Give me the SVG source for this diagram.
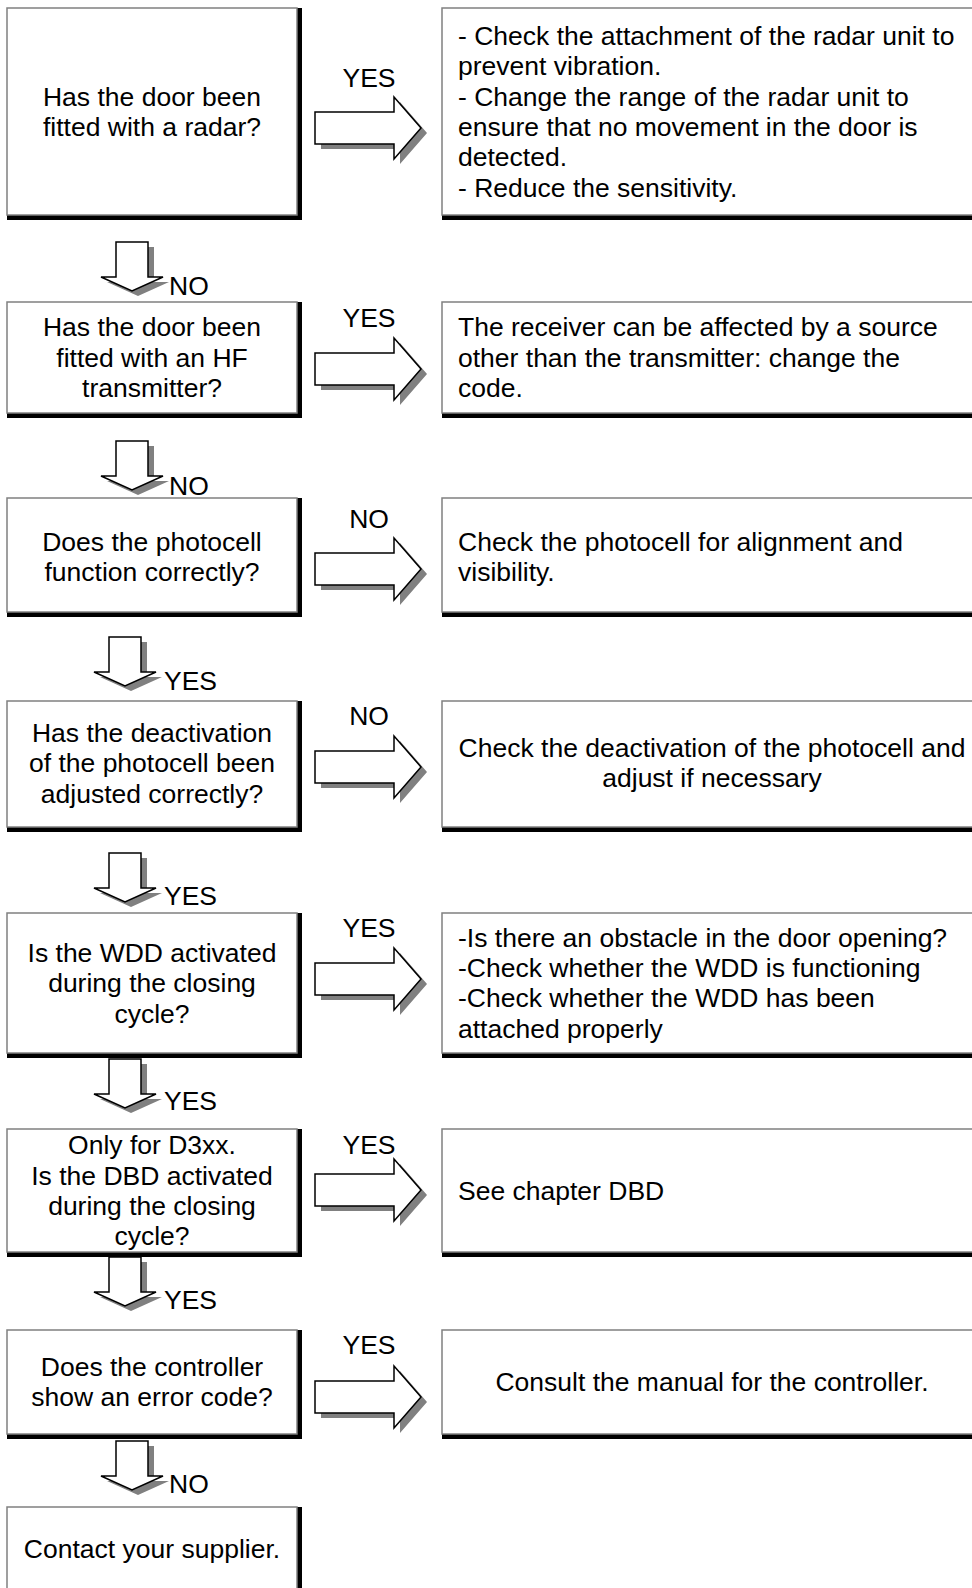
<svg xmlns="http://www.w3.org/2000/svg" xmlns:xlink="http://www.w3.org/1999/xlink" width="972" height="1588" viewBox="0 0 972 1588">
  <style>
    text { font-family: "Liberation Sans", Arial, sans-serif; font-size: 26.5px; fill: #000; }
    .c { text-anchor: middle; }
    .edge { fill: #000; }
    .frame { fill: #fff; stroke: #808080; stroke-width: 1.5; }
    .arr { fill: #fff; stroke: #000; stroke-width: 1.5; stroke-linejoin: miter; }
    .shd { fill: #808080; }
  </style>
  <defs>
    <!-- block arrow pointing right, tip at origin -->
    <path id="ra" d="M-106,-16 H-27 V-31 L0,0 L-27,31 V16 H-106 Z"/>
    <!-- block arrow pointing down, tip at origin -->
    <path id="da" d="M-16,-49 H16 V-14 H31 L0,0 L-31,-14 H-16 Z"/>
  </defs>

  <rect width="972" height="1588" fill="#fff"/>

  <!-- connectors -->
  <g id="connectors">
    <!-- horizontal arrows to the remedy boxes -->
    <use href="#ra" class="shd" x="427" y="133"/>
    <use href="#ra" class="arr" x="421" y="128"/>
    <text class="c" x="369" y="87">YES</text>

    <use href="#ra" class="shd" x="427" y="374"/>
    <use href="#ra" class="arr" x="421" y="369"/>
    <text class="c" x="369" y="327">YES</text>

    <use href="#ra" class="shd" x="427" y="574"/>
    <use href="#ra" class="arr" x="421" y="569"/>
    <text class="c" x="369" y="528">NO</text>

    <use href="#ra" class="shd" x="427" y="772"/>
    <use href="#ra" class="arr" x="421" y="767"/>
    <text class="c" x="369" y="725">NO</text>

    <use href="#ra" class="shd" x="427" y="984"/>
    <use href="#ra" class="arr" x="421" y="979"/>
    <text class="c" x="369" y="937">YES</text>

    <use href="#ra" class="shd" x="427" y="1195"/>
    <use href="#ra" class="arr" x="421" y="1190"/>
    <text class="c" x="369" y="1154">YES</text>

    <use href="#ra" class="shd" x="427" y="1402"/>
    <use href="#ra" class="arr" x="421" y="1397"/>
    <text class="c" x="369" y="1354">YES</text>

    <!-- vertical arrows between the questions -->
    <use href="#da" class="shd" x="138" y="296"/>
    <use href="#da" class="arr" x="132" y="291"/>
    <text x="169" y="295">NO</text>

    <use href="#da" class="shd" x="138" y="495"/>
    <use href="#da" class="arr" x="132" y="490"/>
    <text x="169" y="495">NO</text>

    <use href="#da" class="shd" x="131" y="691"/>
    <use href="#da" class="arr" x="125" y="686"/>
    <text x="164" y="690">YES</text>

    <use href="#da" class="shd" x="131" y="907"/>
    <use href="#da" class="arr" x="125" y="902"/>
    <text x="164" y="905">YES</text>

    <use href="#da" class="shd" x="131" y="1113"/>
    <use href="#da" class="arr" x="125" y="1108"/>
    <text x="164" y="1110">YES</text>

    <use href="#da" class="shd" x="131" y="1311"/>
    <use href="#da" class="arr" x="125" y="1306"/>
    <text x="164" y="1309">YES</text>

    <use href="#da" class="shd" x="138" y="1495"/>
    <use href="#da" class="arr" x="132" y="1490"/>
    <text x="169" y="1493">NO</text>
  </g>

  <!-- question boxes -->
  <g id="q1">
    <rect class="edge" x="7" y="8" width="295" height="212"/>
    <rect class="frame" x="7" y="8" width="290" height="207"/>
    <text class="c"><tspan x="152" y="105.5">Has the door been</tspan><tspan x="152" y="135.9">fitted with a radar?</tspan></text>
  </g>
  <g id="q2">
    <rect class="edge" x="7" y="302" width="295" height="116"/>
    <rect class="frame" x="7" y="302" width="290" height="111"/>
    <text class="c"><tspan x="152" y="336.3">Has the door been</tspan><tspan x="152" y="366.7">fitted with an HF</tspan><tspan x="152" y="397.1">transmitter?</tspan></text>
  </g>
  <g id="q3">
    <rect class="edge" x="7" y="498" width="295" height="119"/>
    <rect class="frame" x="7" y="498" width="290" height="114"/>
    <text class="c"><tspan x="152" y="550.5">Does the photocell</tspan><tspan x="152" y="580.9">function correctly?</tspan></text>
  </g>
  <g id="q4">
    <rect class="edge" x="7" y="701" width="295" height="131"/>
    <rect class="frame" x="7" y="701" width="290" height="126"/>
    <text class="c"><tspan x="152" y="741.8">Has the deactivation</tspan><tspan x="152" y="772.2">of the photocell been</tspan><tspan x="152" y="802.6">adjusted correctly?</tspan></text>
  </g>
  <g id="q5">
    <rect class="edge" x="7" y="913" width="295" height="145"/>
    <rect class="frame" x="7" y="913" width="290" height="140"/>
    <text class="c"><tspan x="152" y="961.8">Is the WDD activated</tspan><tspan x="152" y="992.2">during the closing</tspan><tspan x="152" y="1022.6">cycle?</tspan></text>
  </g>
  <g id="q6">
    <rect class="edge" x="7" y="1129" width="295" height="128"/>
    <rect class="frame" x="7" y="1129" width="290" height="123"/>
    <text class="c"><tspan x="152" y="1154.1">Only for D3xx.</tspan><tspan x="152" y="1184.5">Is the DBD activated</tspan><tspan x="152" y="1214.9">during the closing</tspan><tspan x="152" y="1245.3">cycle?</tspan></text>
  </g>
  <g id="q7">
    <rect class="edge" x="7" y="1330" width="295" height="109"/>
    <rect class="frame" x="7" y="1330" width="290" height="104"/>
    <text class="c"><tspan x="152" y="1376">Does the controller</tspan><tspan x="152" y="1406.4">show an error code?</tspan></text>
  </g>
  <g id="q8">
    <rect class="edge" x="7" y="1507" width="295" height="100"/>
    <rect class="frame" x="7" y="1507" width="290" height="95"/>
    <text class="c" x="152" y="1558">Contact your supplier.</text>
  </g>

  <!-- remedy boxes -->
  <g id="a1">
    <rect class="edge" x="442" y="8" width="560" height="212"/>
    <rect class="frame" x="442" y="8" width="555" height="207"/>
    <text><tspan x="458" y="44.7">- Check the attachment of the radar unit to</tspan><tspan x="458" y="75.1">prevent vibration.</tspan><tspan x="458" y="105.5">- Change the range of the radar unit to</tspan><tspan x="458" y="135.9">ensure that no movement in the door is</tspan><tspan x="458" y="166.3">detected.</tspan><tspan x="458" y="196.7">- Reduce the sensitivity.</tspan></text>
  </g>
  <g id="a2">
    <rect class="edge" x="442" y="302" width="560" height="116"/>
    <rect class="frame" x="442" y="302" width="555" height="111"/>
    <text><tspan x="458" y="336.3">The receiver can be affected by a source</tspan><tspan x="458" y="366.7">other than the transmitter: change the</tspan><tspan x="458" y="397.1">code.</tspan></text>
  </g>
  <g id="a3">
    <rect class="edge" x="442" y="498" width="560" height="119"/>
    <rect class="frame" x="442" y="498" width="555" height="114"/>
    <text><tspan x="458" y="550.5">Check the photocell for alignment and</tspan><tspan x="458" y="580.9">visibility.</tspan></text>
  </g>
  <g id="a4">
    <rect class="edge" x="442" y="701" width="560" height="131"/>
    <rect class="frame" x="442" y="701" width="555" height="126"/>
    <text class="c"><tspan x="712" y="757">Check the deactivation of the photocell and</tspan><tspan x="712" y="787.4">adjust if necessary</tspan></text>
  </g>
  <g id="a5">
    <rect class="edge" x="442" y="913" width="560" height="145"/>
    <rect class="frame" x="442" y="913" width="555" height="140"/>
    <text><tspan x="458" y="946.6">-Is there an obstacle in the door opening?</tspan><tspan x="458" y="977">-Check whether the WDD is functioning</tspan><tspan x="458" y="1007.4">-Check whether the WDD has been</tspan><tspan x="458" y="1037.8">attached properly</tspan></text>
  </g>
  <g id="a6">
    <rect class="edge" x="442" y="1129" width="560" height="128"/>
    <rect class="frame" x="442" y="1129" width="555" height="123"/>
    <text x="458" y="1199.7">See chapter DBD</text>
  </g>
  <g id="a7">
    <rect class="edge" x="442" y="1330" width="560" height="109"/>
    <rect class="frame" x="442" y="1330" width="555" height="104"/>
    <text class="c" x="712" y="1391.2">Consult the manual for the controller.</text>
  </g>
</svg>
